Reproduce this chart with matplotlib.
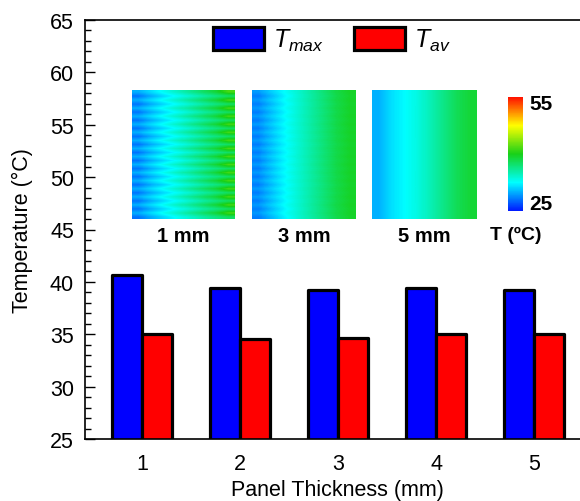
import numpy as np
import matplotlib
matplotlib.use("Agg")
import matplotlib.pyplot as plt
from matplotlib.colors import LinearSegmentedColormap
from matplotlib.ticker import MultipleLocator

plt.rcParams['font.family'] = ['Liberation Sans', 'DejaVu Sans']
plt.rcParams['mathtext.fontset'] = 'custom'
plt.rcParams['mathtext.it'] = 'Liberation Sans:italic'
plt.rcParams['mathtext.rm'] = 'Liberation Sans'

# bar data
thickness = [1, 2, 3, 4, 5]
t_max = [40.7, 39.45, 39.2, 39.45, 39.25]
t_av = [35.05, 34.5, 34.6, 35.05, 35.0]

# inset temperature fields (deg C), profiles left -> right
field_labels = ["1 mm", "3 mm", "5 mm"]
fin_profiles = [
    [30.0, 31.5, 33.0, 34.5, 36.0, 37.5, 39.0, 41.5],
    [29.3, 31.0, 32.6, 34.0, 35.5, 37.0, 38.5, 39.5],
    [30.0, 31.5, 32.5, 33.5, 35.0, 36.5, 38.0, 39.0],
]
gap_profiles = [
    [28.0, 29.8, 31.3, 32.7, 34.0, 35.3, 36.5, 37.5],
    [28.3, 30.2, 32.1, 33.8, 35.3, 36.8, 38.3, 39.3],
    [30.0, 31.5, 32.5, 33.5, 35.0, 36.5, 38.0, 39.0],
]
stripe_counts = [16, 16, 1]
t_range = (25, 55)

cmap = LinearSegmentedColormap.from_list(
    "tec", [(0.0, "#0018ff"), (0.25, "#00ffff"), (0.5, "#18d018"),
            (0.75, "#ffff00"), (1.0, "#ff1000")])

fig = plt.figure(figsize=(5.8, 5.02), dpi=100)
W, H = 580.0, 502.0


def fbox(x0, y0, x1, y1):
    # pixel box -> figure fraction
    return [x0 / W, 1 - y1 / H, (x1 - x0) / W, (y1 - y0) / H]


ax = fig.add_axes(fbox(85, 21, 590, 440))
x = np.array(thickness, dtype=float)
w = 0.305
ax.bar(x - w / 2, t_max, width=w, bottom=0, color="#0000ff", edgecolor="black",
       linewidth=2.3, joinstyle="round", label="$T_{max}$")
ax.bar(x + w / 2, t_av, width=w, bottom=0, color="#ff0000", edgecolor="black",
       linewidth=2.3, joinstyle="round", label="$T_{av}$")
ax.set_ylim(25, 65)
ax.set_xlim(0.42, 5.57)
ax.set_xticks(thickness)
ax.yaxis.set_major_locator(MultipleLocator(5))
ax.yaxis.set_minor_locator(MultipleLocator(1))
ax.tick_params(axis="y", which="major", direction="in", length=7, width=1, labelsize=15.5, pad=8)
ax.tick_params(axis="y", which="minor", direction="in", length=4, width=1)
ax.tick_params(axis="x", length=0, labelsize=15.5, pad=10)
ax.set_xlabel("Panel Thickness (mm)", fontsize=15.5, labelpad=4)
ax.set_ylabel("Temperature (°C)", fontsize=15.5, labelpad=12)
ax.spines["right"].set_visible(False)
for s in ["left", "top", "bottom"]:
    ax.spines[s].set_linewidth(1.2)

leg = ax.legend(loc="center left", bbox_to_anchor=(213 / W, 1 - 41 / H),
                bbox_transform=fig.transFigure, ncol=2, frameon=False,
                fontsize=18, handlelength=2.05, handleheight=1.05, columnspacing=1.2,
                handletextpad=0.36, borderpad=0, borderaxespad=0)

img_boxes = [(132, 91, 235, 220), (252, 91, 356, 220), (372, 91, 477, 220)]
im = None
for i, box in enumerate(img_boxes):
    iax = fig.add_axes(fbox(*box))
    rows = []
    for k in range(stripe_counts[i]):
        rows.append(fin_profiles[i])
        rows.append(gap_profiles[i])
    field = np.array(rows)
    im = iax.imshow(field, cmap=cmap, vmin=t_range[0], vmax=t_range[1],
                    aspect="auto", interpolation="bilinear")
    iax.set_axis_off()
    fig.text(((box[0] + box[2]) / 2) / W, 1 - 236 / H, field_labels[i],
             ha="center", va="center", fontsize=14.5, fontweight="bold")

cax = fig.add_axes(fbox(508, 98, 523, 212))
cb = fig.colorbar(im, cax=cax)
cb.set_ticks([])
cb.outline.set_visible(False)
fig.text(529 / W, 1 - 105 / H, "55", ha="left", va="center", fontsize=15, fontweight="bold")
fig.text(529 / W, 1 - 205 / H, "25", ha="left", va="center", fontsize=15, fontweight="bold")
fig.text(516 / W, 1 - 235 / H, "T (ºC)", ha="center", va="center", fontsize=14,
         fontweight="bold")

fig.savefig("out.png", dpi=100)
